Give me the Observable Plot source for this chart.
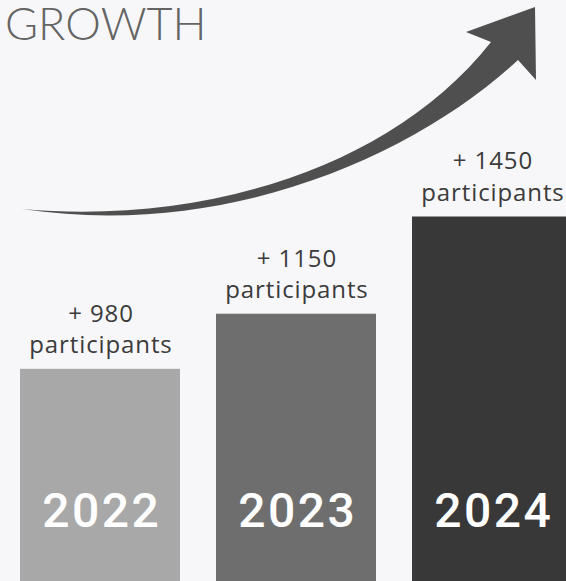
<!DOCTYPE html>
<html>
<head>
<meta charset="utf-8">
<script src="https://cdn.jsdelivr.net/npm/d3@7"></script>
<script src="https://cdn.jsdelivr.net/npm/@observablehq/plot@0.6"></script>
<style>
  html, body { margin: 0; padding: 0; background: #f7f7f9; overflow: hidden; }
  #wrap { position: relative; width: 566px; height: 581px; }
  #title { position: absolute; left: 5px; top: 1px; margin: 0; font: 300 45px/45px Lato, sans-serif; color: #646464; }
  g[fill="white"] text { letter-spacing: 2.5px; }
  g[fill="#3b3b3b"] text { letter-spacing: 0.9px; }
</style>
</head>
<body>
<div id="wrap"><div id="chart"></div><div id="title"></div></div>
<script>
// ---- data ----
const years = ["2022", "2023", "2024"];
const participants = [980, 1150, 1450];
const unitLabel = "participants";
const titleText = "GROWTH";
const barColors = ["#a8a8a8", "#6e6e6e", "#383838"];

const data = years.map((year, i) => ({ year, value: participants[i] }));

// decorative growth arrow (render function mark)
const growthArrow = () => {
  const p = document.createElementNS("http://www.w3.org/2000/svg", "path");
  p.setAttribute("d",
    "M22,209 C230,240 418,153 518,60 L536,80 L535,7 L466,32 L491,42 C390,170 200,225 22,209 Z");
  p.setAttribute("fill", "#4f4f4f");
  return p;
};

const chart = Plot.plot({
  width: 566,
  height: 581,
  margin: 0,
  style: { background: "#f7f7f9" },
  x: { domain: years, range: [20, 572], paddingInner: 36 / 196, paddingOuter: 0, round: false, axis: null },
  y: { domain: [0, 1500], range: [686.4, 200.3], axis: null },
  color: { domain: years, range: barColors },
  marks: [
    growthArrow,
    Plot.barY(data, { x: "year", y: "value", fill: "year", clip: true }),
    Plot.text(data, {
      x: "year", y: "value", text: d => `+ ${d.value}`, lineAnchor: "middle",
      dx: 0.45, dy: -55.2, fontSize: 24, fontFamily: "Open Sans", fill: "#3b3b3b"
    }),
    Plot.text(data, {
      x: "year", y: "value", text: () => unitLabel, lineAnchor: "middle",
      dx: 0.45, dy: -23.7, fontSize: 24, fontFamily: "Open Sans", fill: "#3b3b3b"
    }),
    Plot.text(data, {
      x: "year", frameAnchor: "bottom", text: "year", lineAnchor: "middle",
      dx: 1.25, dy: -69.4, fontSize: 48, fontWeight: 500, fontFamily: "Roboto", fill: "white"
    })
  ]
});

document.getElementById("chart").appendChild(chart);
document.getElementById("title").textContent = titleText;
</script>
</body>
</html>
